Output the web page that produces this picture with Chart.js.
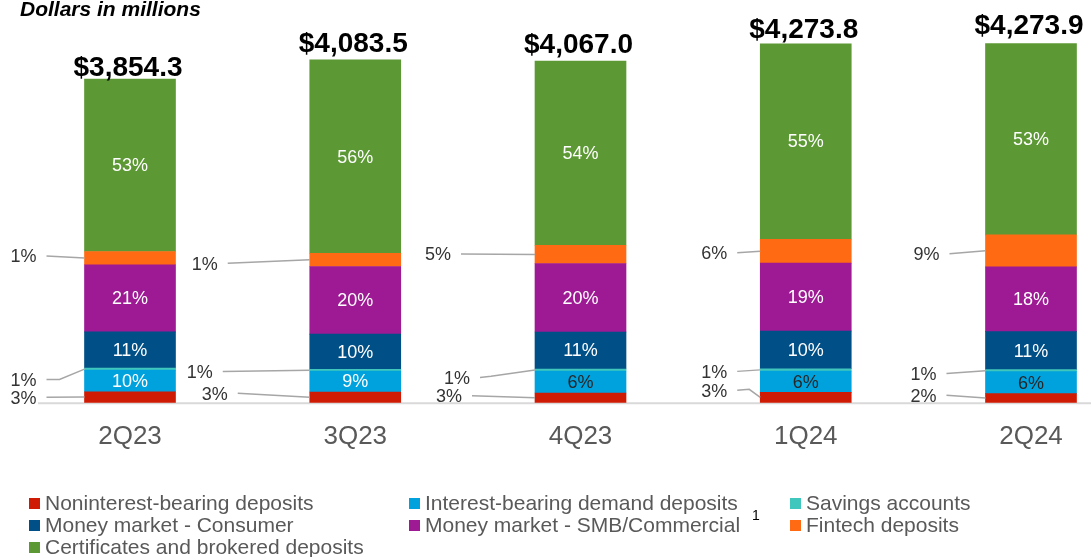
<!DOCTYPE html>
<html>
<head>
<meta charset="utf-8">
<script src="https://cdn.jsdelivr.net/npm/chart.js@4"></script>
<style>
  html, body { margin: 0; padding: 0; background: #fff; }
  #wrap { width: 1091px; height: 557px; }
</style>
</head>
<body>
<div id="wrap"><canvas id="deposits"></canvas></div>
<script>
// Quarter labels and total deposits ($M)
var quarters = ['2Q23', '3Q23', '4Q23', '1Q24', '2Q24'];
var totals = [3854.3, 4083.5, 4067.0, 4273.8, 4273.9];

// segment sizes in $M
var nonInterest    = [126, 123, 111, 119, 103];
var interestDemand = [258, 250, 262, 254, 262];
var savings        = [24, 20, 24, 27, 24];
var mmConsumer     = [431, 420, 441, 450, 453];
var mmCommercial   = [801, 806, 816, 808, 772];
var fintech        = [158, 158, 218, 286, 382];
var certificates   = [2056, 2305, 2195, 2330, 2279];

// printed share labels
var nonInterestPct    = ['3%', '3%', '3%', '3%', '2%'];
var interestDemandPct = ['10%', '9%', '6%', '6%', '6%'];
var savingsPct        = ['1%', '1%', '1%', '1%', '1%'];
var mmConsumerPct     = ['11%', '10%', '11%', '10%', '11%'];
var mmCommercialPct   = ['21%', '20%', '20%', '19%', '18%'];
var fintechPct        = ['1%', '1%', '5%', '6%', '9%'];
var certificatesPct   = ['53%', '56%', '54%', '55%', '53%'];

var FONT = '"Liberation Sans", Arial, sans-serif';

var datasets = [
    {label: 'Noninterest-bearing deposits', data: nonInterest, backgroundColor: '#CF1B04', pct: nonInterestPct},
    {label: 'Interest-bearing demand deposits', data: interestDemand, backgroundColor: '#00A2DE', pct: interestDemandPct},
    {label: 'Savings accounts', data: savings, backgroundColor: '#40C7BD', pct: savingsPct},
    {label: 'Money market - Consumer', data: mmConsumer, backgroundColor: '#004F87', pct: mmConsumerPct},
    {label: 'Money market - SMB/Commercial', data: mmCommercial, backgroundColor: '#9D1A94', pct: mmCommercialPct},
    {label: 'Fintech deposits', data: fintech, backgroundColor: '#FF6A12', pct: fintechPct},
    {label: 'Certificates and brokered deposits', data: certificates, backgroundColor: '#5C9834', pct: certificatesPct}
];

// which series get their label inside the bar, and text colour per bar
var insideLabels = {
    1: ['#fff', '#fff', '#262626', '#262626', '#262626'],
    3: ['#fff', '#fff', '#fff', '#fff', '#fff'],
    4: ['#fff', '#fff', '#fff', '#fff', '#fff'],
    6: ['#fff', '#fff', '#fff', '#fff', '#fff']
};

// outside labels with leader lines: [text right offset from bar left, text dy, bend dx, bend dy]
var leaders = {
    5: [[48, -1.7], [92, 4], [84, 0], [33, 2], [46, 3.3]],
    2: [[48, 11, -25, 10.3], [97, 1.9], [65, 8, -44, 6.3], [33, 2], [49, 3.3]],
    0: [[48, 0.7], [82, -3.5], [73, -1.5], [33, -6.6, -11, -8], [49, -2.3]]
};
var totalGap = [3, 8, 8, 6, 10];

var extras = {
    id: 'extras',
    beforeDatasetsDraw: function(chart) {
        var ctx = chart.ctx;
        var y0 = chart.scales.y.getPixelForValue(0);
        ctx.save();
        ctx.strokeStyle = '#D9D9D9';
        ctx.lineWidth = 2;
        ctx.beginPath();
        ctx.moveTo(38, y0 + 1);
        ctx.lineTo(chart.width, y0 + 1);
        ctx.stroke();
        ctx.restore();
    },
    afterDatasetsDraw: function(chart) {
        var ctx = chart.ctx;
        ctx.save();
        ctx.textBaseline = 'middle';

        // labels inside segments
        ctx.font = '18px ' + FONT;
        ctx.textAlign = 'center';
        Object.keys(insideLabels).forEach(function(di) {
            var meta = chart.getDatasetMeta(+di);
            meta.data.forEach(function(bar, i) {
                ctx.fillStyle = insideLabels[di][i];
                ctx.fillText(datasets[di].pct[i], bar.x, (bar.y + bar.base) / 2 + 1);
            });
        });

        // outside labels + leader lines
        Object.keys(leaders).forEach(function(di) {
            var meta = chart.getDatasetMeta(+di);
            meta.data.forEach(function(bar, i) {
                var s = leaders[di][i];
                var left = bar.x - bar.width / 2;
                var cy = (bar.y + bar.base) / 2;
                var tx = left - s[0], ty = cy + s[1];
                ctx.fillStyle = '#333';
                ctx.textAlign = 'right';
                ctx.fillText(datasets[di].pct[i], tx, ty + 1);
                ctx.strokeStyle = '#A6A6A6';
                ctx.lineWidth = 1.5;
                ctx.beginPath();
                ctx.moveTo(tx + 10, ty - 0.5);
                if (s.length > 2) ctx.lineTo(left + s[2], cy + s[3]);
                ctx.lineTo(left, cy);
                ctx.stroke();
            });
        });

        // totals on top
        var topMeta = chart.getDatasetMeta(datasets.length - 1);
        ctx.font = 'bold 28px ' + FONT;
        ctx.textAlign = 'center';
        ctx.textBaseline = 'alphabetic';
        ctx.fillStyle = '#000';
        topMeta.data.forEach(function(bar, i) {
            var t = '$' + totals[i].toLocaleString('en-US', {minimumFractionDigits: 1, maximumFractionDigits: 1});
            ctx.fillText(t, bar.x - 2, bar.y - totalGap[i]);
        });
        ctx.restore();
    },
    afterDraw: function(chart) {
        var ctx = chart.ctx;
        ctx.save();
        // subtitle
        ctx.font = 'italic bold 21px ' + FONT;
        ctx.fillStyle = '#000';
        ctx.textAlign = 'left';
        ctx.textBaseline = 'alphabetic';
        ctx.fillText('Dollars in millions', 20, 16);

        // legend grid
        var cols = [29, 409, 790];
        var rows = [503, 525, 547];
        ctx.font = '21px ' + FONT;
        ctx.textBaseline = 'middle';
        datasets.forEach(function(ds, k) {
            var cx = cols[k % 3], cy = rows[Math.floor(k / 3)];
            ctx.fillStyle = ds.backgroundColor;
            ctx.fillRect(cx, cy - 5, 11, 11);
            ctx.fillStyle = '#595959';
            ctx.fillText(ds.label, cx + 16, cy + 1);
            if (k === 4) {
                var w = ctx.measureText(ds.label).width;
                ctx.save();
                ctx.font = '14px ' + FONT;
                ctx.fillStyle = '#000';
                ctx.fillText('1', cx + 16 + w + 12, cy - 9);
                ctx.restore();
            }
        });
        ctx.restore();
    }
};

var ctx = document.getElementById('deposits').getContext('2d');
var chart = new Chart(ctx, {
    type: 'bar',
    data: {
        labels: quarters,
        datasets: datasets.map(function(d) {
            return {label: d.label, data: d.data, backgroundColor: d.backgroundColor,
                    borderWidth: 0, barThickness: 91, clip: false};
        })
    },
    options: {
        responsive: true,
        maintainAspectRatio: false,
        animation: false,
        layout: {padding: {left: 130, right: 60, top: 8, bottom: 85.5}},
        plugins: {legend: {display: false}, tooltip: {enabled: false}},
        scales: {
            x: {
                stacked: true,
                offset: false,
                grid: {display: false, drawTicks: false},
                border: {display: false},
                ticks: {color: '#595959', font: {family: FONT, size: 26}, padding: 19, maxRotation: 0}
            },
            y: {
                stacked: true,
                display: false,
                min: 0,
                max: 4700
            }
        }
    },
    plugins: [extras]
});
</script>
</body>
</html>
